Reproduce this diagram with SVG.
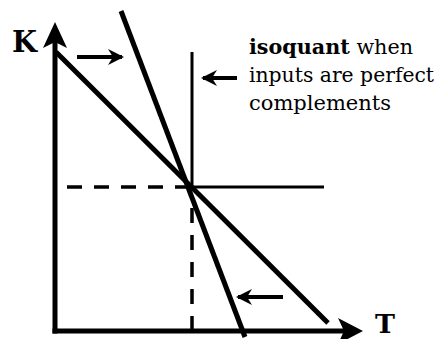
<svg xmlns="http://www.w3.org/2000/svg" width="440" height="339" viewBox="0 0 440 339">
<defs>
<style>
.ax{stroke:#000;stroke-width:5;fill:none}
.bud{stroke:#000;stroke-width:5;fill:none;stroke-linecap:butt}
.iso{stroke:#000;stroke-width:3;fill:none}
.dash{stroke:#000;stroke-width:3.5;fill:none;stroke-dasharray:15 12}
.arr{stroke:#000;stroke-width:4;fill:none;marker-end:url(#ah)}
</style>
<marker id="ah" viewBox="0 0 16 16" refX="14" refY="8" markerWidth="4" markerHeight="4" markerUnits="strokeWidth" orient="auto">
<path d="M0,0 L16,8 L0,16 L5,8 Z" fill="#000"/>
</marker>
</defs>
<rect width="440" height="339" fill="#fff"/>
<g id="axes">
<line class="ax" x1="55" y1="40" x2="55" y2="333.5"/>
<line class="ax" x1="52.5" y1="331" x2="345" y2="331"/>
<path d="M55,22 L67,48 L55,42 L43,48 Z" fill="#000"/>
<path d="M363,331 L338,318 L344,331 L338,344 Z" fill="#000"/>
<text x="12" y="52" font-family="DejaVu Serif, serif" font-size="29" font-weight="bold" fill="#000" textLength="25" lengthAdjust="spacingAndGlyphs">K</text>
<text x="375" y="333" font-family="DejaVu Serif, serif" font-size="26" font-weight="bold" fill="#000" textLength="20" lengthAdjust="spacingAndGlyphs">T</text>
</g>
<g id="connectors">
<line class="bud" x1="56" y1="52" x2="328" y2="323"/>
<line class="bud" x1="121" y1="11" x2="245" y2="337"/>
<line class="dash" x1="67" y1="187" x2="192" y2="187"/>
<line class="dash" x1="192" y1="208" x2="192" y2="331"/>
<line class="arr" x1="77" y1="57" x2="122" y2="57"/>
<line class="arr" x1="237" y1="78" x2="203" y2="78"/>
<line class="arr" x1="283" y1="297" x2="238" y2="297"/>
</g>
<g id="isoquant">
<polyline class="iso" points="192,52 192,187 324,187"/>
</g>
<g id="label" font-family="DejaVu Serif, serif" font-size="21" fill="#000">
<text x="249" y="54" textLength="164" lengthAdjust="spacingAndGlyphs"><tspan font-weight="bold">isoquant</tspan> when</text>
<text x="249" y="82" textLength="185" lengthAdjust="spacingAndGlyphs">inputs are perfect</text>
<text x="249" y="110" textLength="142" lengthAdjust="spacingAndGlyphs">complements</text>
</g>
</svg>
